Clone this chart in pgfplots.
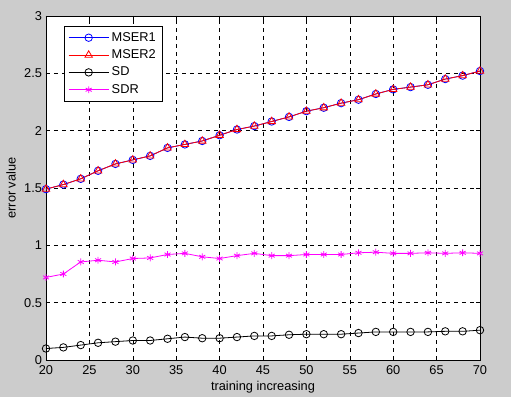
\documentclass[border=0pt]{standalone}
\usepackage{fontspec}
\setmainfont{Liberation Sans}
\usepackage{pgfplots}
\pgfplotsset{compat=1.18}
\definecolor{figgray}{gray}{0.8}
\definecolor{mlmagenta}{rgb}{1,0,1}
\newcommand{\figfont}{\fontsize{9.6}{11}\selectfont}
\pgfplotstableread{
x mser sd sdr
20 1.49 0.10 0.72
22 1.53 0.11 0.75
24 1.58 0.13 0.855
26 1.65 0.15 0.87
28 1.71 0.16 0.855
30 1.745 0.17 0.885
32 1.78 0.17 0.89
34 1.85 0.185 0.92
36 1.88 0.20 0.93
38 1.91 0.19 0.90
40 1.96 0.19 0.885
42 2.01 0.20 0.91
44 2.04 0.21 0.93
46 2.08 0.21 0.91
48 2.12 0.22 0.91
50 2.17 0.225 0.92
52 2.20 0.225 0.92
54 2.24 0.225 0.92
56 2.27 0.235 0.935
58 2.32 0.245 0.94
60 2.36 0.245 0.93
62 2.38 0.245 0.93
64 2.40 0.245 0.935
66 2.45 0.25 0.93
68 2.48 0.25 0.935
70 2.52 0.26 0.93
}\datatab
\begin{document}
\begin{tikzpicture}
\fill[figgray] (-34.5pt,-27.75pt) rectangle (348.75pt,270pt);
\begin{axis}[at={(0,0)}, anchor=south west, scale only axis,
  width=325.5pt, height=258pt,
  xmin=20, xmax=70, ymin=0, ymax=3,
  xtick={20,25,...,70}, ytick={0,0.5,...,3},
  grid=major, grid style={dashed, black, line width=0.4pt},
  axis background/.style={fill=white},
  axis line style={black, line width=0.5pt},
  tick align=inside, major tick length=3pt,
  tick style={black, line width=0.4pt},
  font=\figfont,
  tick label style={font=\figfont},
  label style={font=\figfont},
  /pgf/number format/assume math mode=true,
  xticklabel style={yshift=-1pt},
  yticklabel style={xshift=0.5pt},
  xlabel={training increasing}, ylabel={error value},
  xlabel style={yshift=2.5pt},
  ylabel style={yshift=-0.5pt},
  legend cell align=left,
  legend style={at={(0.0415,0.971)}, anchor=north west, draw=black, fill=white,
    font=\figfont, nodes={font=\figfont}, row sep=0.8pt, inner xsep=3pt, inner ysep=2.5pt},
  legend image code/.code={\draw[#1] (0pt,0pt) -- (30pt,0pt); \draw[#1, only marks] plot coordinates {(15pt,0pt)};},
]
\addplot[blue, line width=0.6pt, mark=o, mark size=2.8pt, mark options={solid}] table[x=x,y=mser] {\datatab};
\addlegendentry{MSER1}
\addplot[red, line width=0.6pt, mark=triangle, mark size=3.2pt, mark options={solid}] table[x=x,y=mser] {\datatab};
\addlegendentry{MSER2}
\addplot[black, line width=0.6pt, mark=o, mark size=2.8pt, mark options={solid}] table[x=x,y=sd] {\datatab};
\addlegendentry{SD}
\addplot[mlmagenta, line width=0.6pt, mark=asterisk, mark size=2.6pt, mark options={solid}] table[x=x,y=sdr] {\datatab};
\addlegendentry{SDR}
\end{axis}
\end{tikzpicture}
\end{document}
